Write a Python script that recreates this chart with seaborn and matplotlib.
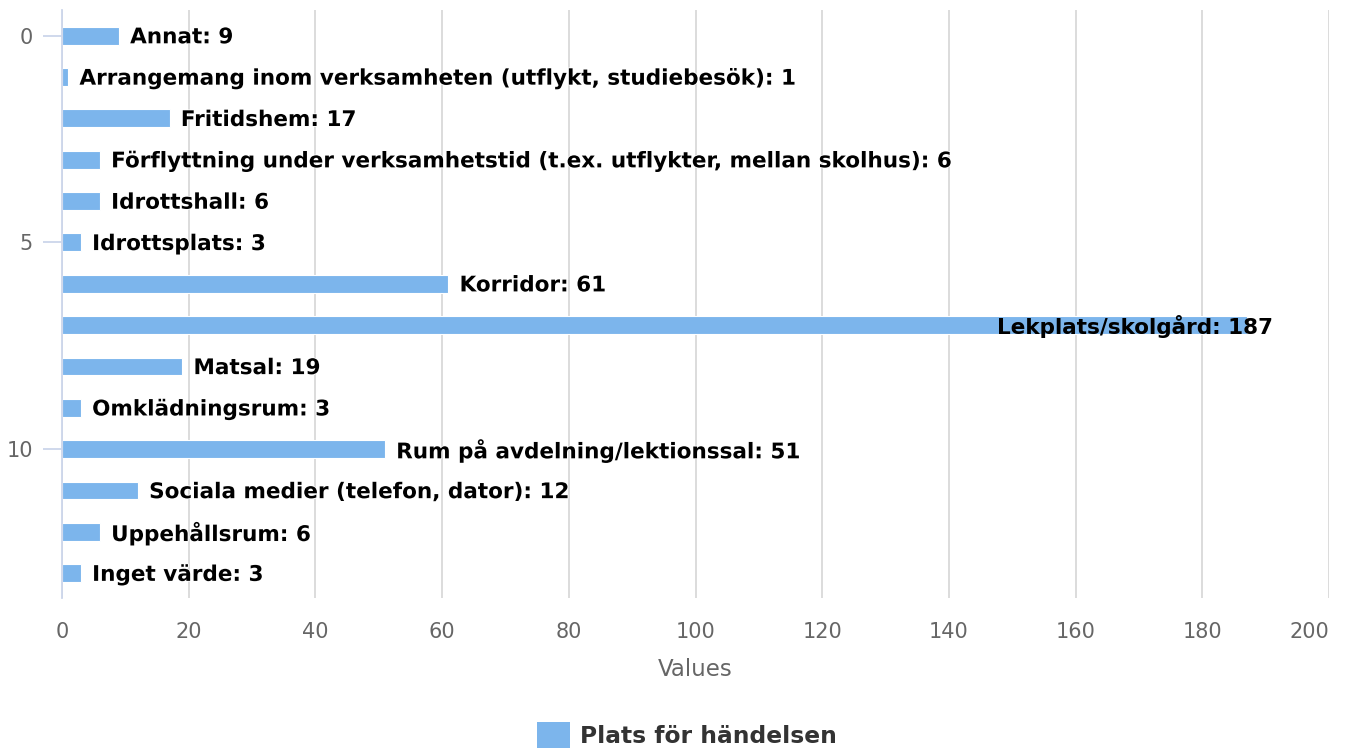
import matplotlib
matplotlib.use("Agg")
import matplotlib.pyplot as plt
import matplotlib.patheffects as pe
from matplotlib.patches import Patch
import seaborn as sns
import pandas as pd

categories = [
    "Annat",
    "Arrangemang inom verksamheten (utflykt, studiebesök)",
    "Fritidshem",
    "Förflyttning under verksamhetstid (t.ex. utflykter, mellan skolhus)",
    "Idrottshall",
    "Idrottsplats",
    "Korridor",
    "Lekplats/skolgård",
    "Matsal",
    "Omklädningsrum",
    "Rum på avdelning/lektionssal",
    "Sociala medier (telefon, dator)",
    "Uppehållsrum",
    "Inget värde",
]
values = [9, 1, 17, 6, 6, 3, 61, 187, 19, 3, 51, 12, 6, 3]
series_name = "Plats för händelsen"
x_ticks = [0, 20, 40, 60, 80, 100, 120, 140, 160, 180, 200]
y_ticks = [0, 5, 10]

sns.set_theme(style="white")
plt.rcParams["font.family"] = ["DejaVu Sans"]

df = pd.DataFrame({"idx": list(range(len(categories))), "value": values, "cat": categories})

fig = plt.figure(figsize=(13.47, 7.49), dpi=100)
ax = fig.add_axes([62 / 1347, 1 - 598 / 749, (1329 - 62) / 1347, (598 - 10) / 749])

bar_color = "#7cb5ec"
sns.barplot(data=df, x="value", y="idx", orient="h", native_scale=True,
            color=bar_color, saturation=1, width=0.43,
            edgecolor="white", linewidth=0.8, ax=ax)

ax.set_xlim(0, 200)
ax.set_ylim(13.6, -0.62)
ax.set_xticks(x_ticks)
ax.set_xticklabels([str(t) for t in x_ticks])
ax.get_xticklabels()[-1].set_horizontalalignment("right")
ax.set_yticks(y_ticks)
ax.set_yticklabels([str(t) for t in y_ticks])
ax.grid(axis="x", color="#d9d9d9", linewidth=1.3)
ax.grid(axis="y", visible=False)
ax.set_axisbelow(True)

for s in ["top", "right", "bottom"]:
    ax.spines[s].set_visible(False)
ax.spines["left"].set_color("#ccd6eb")
ax.spines["left"].set_linewidth(1.3)

ax.tick_params(axis="y", length=14, width=1.3, color="#ccd6eb", labelsize=15,
               labelcolor="#666666", pad=7, left=True)
ax.tick_params(axis="x", length=0, labelsize=15, labelcolor="#666666", pad=17)

ax.set_xlabel("Values", fontsize=16.5, color="#666666", labelpad=12)
ax.set_ylabel("")

stroke = [pe.withStroke(linewidth=1.2, foreground="white")]
for i, (c, v) in enumerate(zip(categories, values)):
    txt = f"{c}: {v}"
    if v > 150:
        ax.annotate(txt, xy=(v, i), xytext=(19, -1.2), textcoords="offset points",
                    ha="right", va="center", fontsize=15.5, fontweight="bold",
                    color="black")
    else:
        ax.annotate(txt, xy=(v, i), xytext=(8, -1.2), textcoords="offset points",
                    ha="left", va="center", fontsize=15.5, fontweight="bold",
                    color="black", path_effects=stroke)

handles = [Patch(facecolor=bar_color, edgecolor="none", label=series_name)]
leg = fig.legend(handles=handles, loc="center", bbox_to_anchor=(0.51, 1 - 735 / 749),
                 frameon=False, prop={"size": 16.8, "weight": "bold"},
                 handlelength=1.4, handleheight=1.3, handletextpad=0.45)
for t in leg.get_texts():
    t.set_color("#333333")

fig.savefig("out.png", dpi=100)
